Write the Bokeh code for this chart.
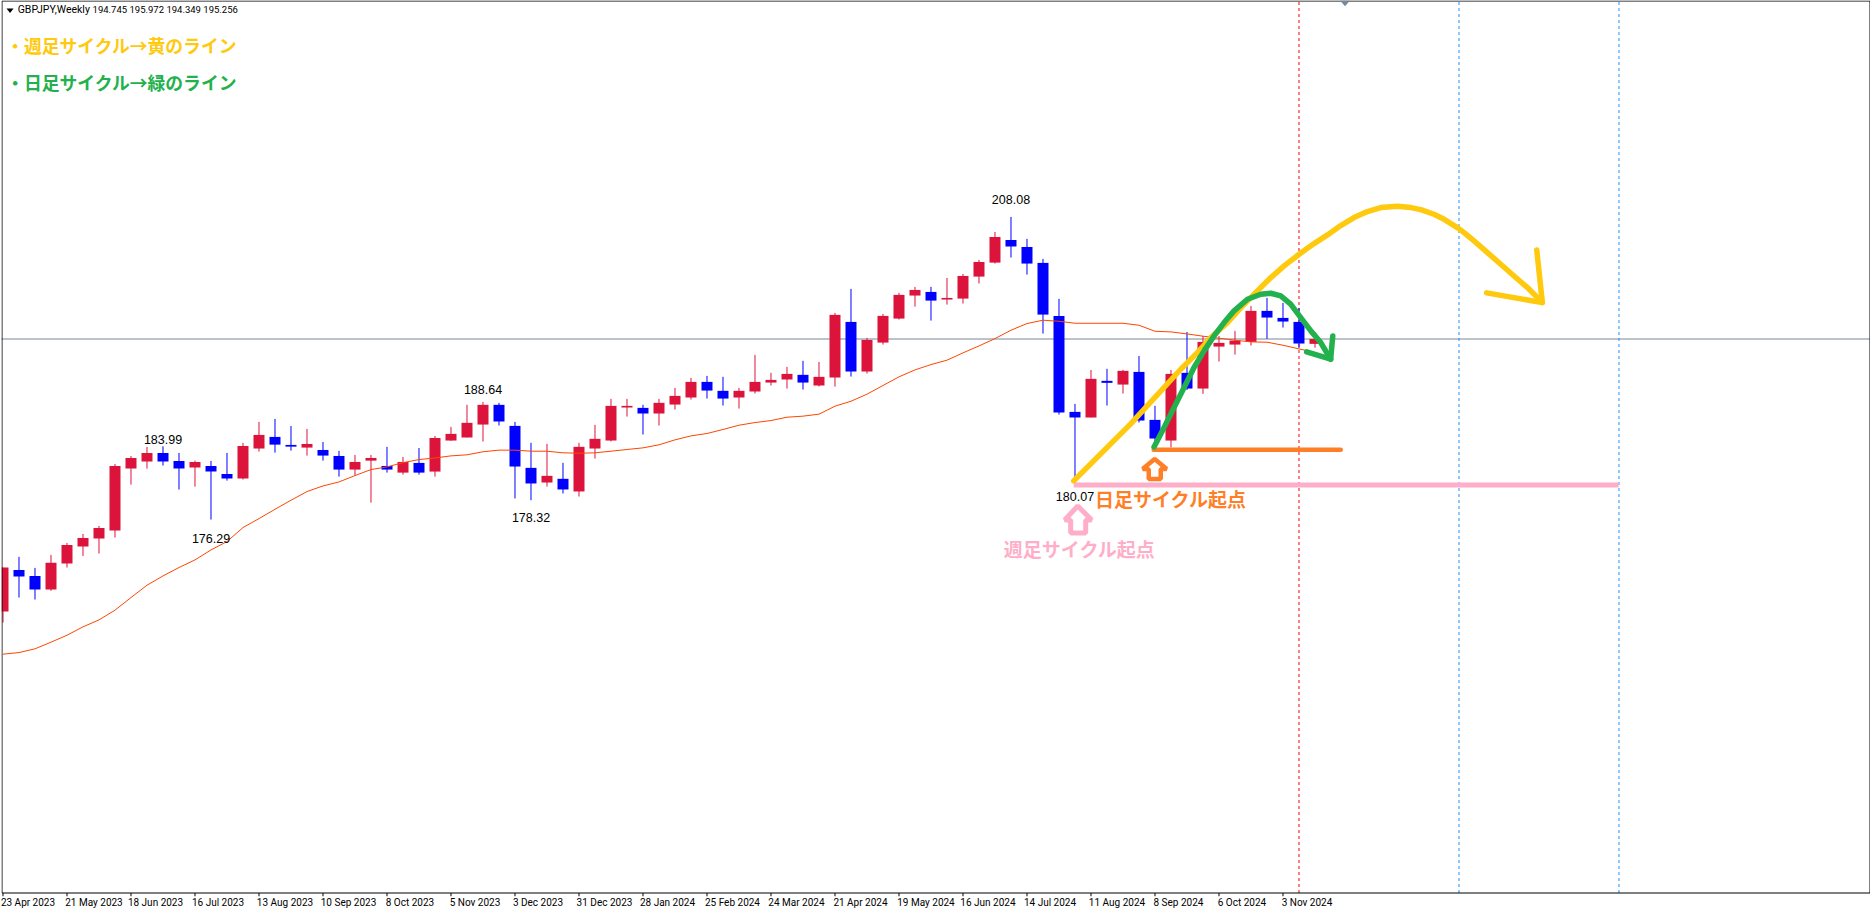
from bokeh.plotting import figure
from bokeh.models import ColumnDataSource, FixedTicker, Range1d, LinearAxis
from bokeh.core.properties import value
from bokeh.embed import file_html
from bokeh.resources import INLINE

# Weekly candles, index 0 = week of 23 Apr 2023
opens = [166.63,171.00,170.37,168.94,171.67,173.45,174.29,175.13,181.64,182.38,183.29,182.45,181.75,181.92,181.08,180.59,183.75,184.97,184.13,183.85,183.60,182.97,181.54,182.48,181.92,181.22,182.24,181.33,
         184.59,184.91,186.27,188.34,186.13,181.72,180.18,180.57,179.24,183.75,184.59,188.06,188.02,187.43,188.37,189.11,190.75,189.81,189.11,189.74,190.68,191.00,191.49,190.37,191.21,197.05,191.84,
         194.88,197.40,199.82,200.20,199.40,199.50,201.81,203.28,205.66,204.93,203.25,197.68,187.60,187.01,190.86,190.47,191.80,186.76,184.59,191.70,190.05,194.46,194.67,194.95,198.21,197.47,197.05,194.745]
highs = [171.25,172.37,171.21,172.58,173.84,174.78,175.62,182.13,182.97,183.92,183.99,183.29,182.48,182.45,183.29,184.34,186.55,186.86,186.12,185.81,184.44,183.50,183.08,183.08,183.92,182.87,183.81,185.07,
         186.03,188.34,188.64,188.55,186.55,184.35,184.24,182.25,184.35,186.24,188.97,188.97,188.34,188.97,190.12,191.17,191.38,191.28,190.12,193.59,191.70,192.33,192.96,192.85,198.00,200.52,195.37,
         197.89,200.10,200.73,200.73,201.67,202.09,203.56,206.50,208.08,205.77,203.67,199.47,188.44,192.01,192.12,192.01,193.48,188.23,192.01,196.00,195.58,195.58,196.11,198.73,199.57,199.05,198.52,195.972]
lows = [165.47,168.10,167.89,168.80,171.25,172.47,172.72,174.40,179.96,181.64,181.96,179.44,179.75,176.29,180.38,180.49,183.43,183.32,183.53,183.01,182.48,180.80,180.91,178.07,181.22,181.01,181.01,180.80,
        184.56,184.91,184.49,186.17,178.51,178.32,179.76,179.03,178.71,182.70,184.49,187.11,185.22,186.17,187.85,188.90,189.00,188.27,187.95,189.53,190.37,190.05,189.95,190.26,190.26,191.31,191.63,
        194.67,197.30,198.66,197.19,198.87,198.98,201.08,203.18,203.81,202.02,195.83,187.32,180.07,187.01,188.27,189.53,186.48,184.38,183.86,189.90,189.49,192.89,193.62,194.57,195.27,196.46,194.32,194.349]
closes = [171.25,170.30,168.94,171.74,173.63,174.36,175.41,181.92,182.76,183.29,182.38,181.64,182.34,181.33,180.59,184.02,185.18,184.16,183.95,184.23,183.01,181.54,182.34,182.76,181.54,182.34,181.22,184.86,
          185.29,186.45,188.34,186.59,181.86,180.08,180.88,179.45,183.93,184.77,188.23,188.23,187.43,188.55,189.28,190.75,189.84,189.00,189.81,190.75,190.96,191.59,190.68,191.28,197.79,191.84,195.16,
          197.68,199.89,200.41,199.29,199.57,201.88,203.35,205.98,204.96,203.18,197.82,187.53,187.01,191.07,190.65,191.91,186.69,184.80,191.59,190.05,194.95,194.85,195.09,198.21,197.51,197.09,194.78,195.256]
moving_avg = [162.15,162.32,162.71,163.41,164.14,165.02,165.75,166.77,168.10,169.39,170.37,171.25,172.05,173.10,173.98,175.45,176.39,177.37,178.32,179.23,179.82,180.24,180.91,181.54,181.82,182.27,182.59,182.76,
              182.98,183.09,183.41,183.58,183.58,183.47,183.47,183.30,183.26,183.30,183.47,183.65,183.82,184.14,184.66,185.08,185.33,185.75,186.20,186.48,186.69,187.04,187.15,187.36,188.20,188.72,189.46,
              190.37,191.28,192.01,192.57,193.03,193.80,194.53,195.30,196.18,196.88,197.23,197.12,196.91,196.91,196.91,196.91,196.70,196.07,196.00,195.79,195.55,195.34,195.13,194.95,194.92,194.60,194.22,193.83]

date_labels = ["23 Apr 2023","21 May 2023","18 Jun 2023","16 Jul 2023","13 Aug 2023","10 Sep 2023","8 Oct 2023","5 Nov 2023","3 Dec 2023","31 Dec 2023","28 Jan 2024",
               "25 Feb 2024","24 Mar 2024","21 Apr 2024","19 May 2024","16 Jun 2024","14 Jul 2024","11 Aug 2024","8 Sep 2024","6 Oct 2024","3 Nov 2024"]
label_widths = [50,54,49,46,52,51,46,48,46,51,49,51,51,51,54,50,46,52,47,46,48]
tick_positions = [i * 4 for i in range(len(date_labels))]

current_price = 195.256
cycle_lines = [81, 91, 101]
cycle_colors = ["#FF0000", "#1E90FF", "#1E90FF"]

swing_x = [63, 10, 13, 30, 33, 67]
swing_y = [209.87, 184.66, 174.26, 189.91, 176.46, 178.67]
swing_text = ["208.08", "183.99", "176.29", "188.64", "178.32", "180.07"]

yellow_x = [66.92,70.48,73.61,74.65,75.49,76.53,77.57,78.40,79.24,80.07,81.01,81.94,82.78,83.61,84.44,85.28,86.11,87.15,87.99,88.61,89.44,90.07,90.90,91.32,91.94,92.78,93.61,94.44,95.28,96.21]
yellow_y = [180.35,186.34,192.08,193.83,195.41,196.98,198.91,200.31,201.71,202.93,204.16,205.28,206.19,207.17,208.01,208.64,209.06,209.20,209.06,208.85,208.36,207.83,206.96,206.43,205.56,204.33,203.11,201.88,200.66,199.08]
yellow_head_x = [92.73,96.21,95.86]
yellow_head_y = [200.10,199.08,204.61]
green_x = [71.94,72.57,73.19,73.82,74.44,75.07,75.69,76.32,76.94,77.78,78.61,79.24,79.86,80.48,81.11,81.74,82.36,82.98]
green_y = [183.92,185.96,188.06,190.16,192.26,194.01,195.58,196.98,198.21,199.43,199.96,200.06,199.78,198.91,197.51,196.11,194.88,193.13]
green_head_x = [81.48,82.98,83.11]
green_head_y = [193.90,193.13,195.58]
pink_level_x = [66.92,100.98]
pink_level_y = [179.93,179.93]
orange_level_x = [71.92,83.61]
orange_level_y = [183.61,183.61]
pink_arrow_x = [67.17,68.04,67.67,67.67,66.73,66.73,66.36]
pink_arrow_y = [177.72,176.25,176.25,174.89,174.89,176.25,176.25]
orange_arrow_x = [71.98,72.73,72.36,72.36,71.61,71.61,71.23]
orange_arrow_y = [182.66,181.61,181.61,180.56,180.56,181.61,181.61]

YELLOW, GREEN, ORANGE, PINK = "#FFC90E", "#22B14C", "#FF7F27", "#FFAEC9"
UP, DOWN = "#DC143C", "#0000FF"
BAR_PX = 16
PX_PER_PRICE = 9.52
FRAME_H = 896
X0, X1 = -0.09375, 116.72
Y1 = current_price + 338.5 / PX_PER_PRICE
Y0 = Y1 - FRAME_H / PX_PER_PRICE
BORDER_Y = Y1 - 892.5 / PX_PER_PRICE

idx = list(range(len(opens)))
src = ColumnDataSource(dict(
    x=idx,
    top=[max(o, c) for o, c in zip(opens, closes)],
    bottom=[min(o, c) for o, c in zip(opens, closes)],
    high=highs,
    low=lows,
    color=[UP if c >= o else DOWN for o, c in zip(opens, closes)],
))

p = figure(width=1870, height=911, output_backend="svg", toolbar_location=None,
           x_range=Range1d(X0, X1), y_range=Range1d(Y0, Y1),
           y_axis_location=None, min_border_left=1, min_border_right=0,
           min_border_top=0, min_border_bottom=15, background_fill_color="white")
p.styles = {"position": "absolute", "left": "0px", "top": "0px"}
p.grid.visible = False
p.outline_line_color = None

label_pos = [t + w / 2 / BAR_PX for t, w in zip(tick_positions, label_widths)]
ax = p.xaxis[0]
ax.ticker = FixedTicker(ticks=label_pos)
ax.major_label_overrides = {t: s for t, s in zip(label_pos, date_labels)}
ax.major_label_text_font = "Roboto"
ax.major_label_text_font_size = "10px"
ax.major_label_text_color = "black"
ax.major_label_standoff = 0
ax.major_tick_in = 0
ax.major_tick_out = 0
ax.major_tick_line_color = None
ax.minor_tick_line_color = None
ax.axis_line_color = None

p.line([-1, 117], [current_price, current_price], line_color="#778899", line_width=1)
for xv, col in zip(cycle_lines, cycle_colors):
    p.line([xv, xv], [BORDER_Y, Y1], line_color=col, line_width=1, line_dash="3 3")

p.segment("x", "low", "x", "high", color="color", line_width=1, source=src)
p.vbar(x="x", top="top", bottom="bottom", width=0.6875, fill_color="color", line_color=None, source=src)
p.line(idx, moving_avg, line_color="#FF4500", line_width=1)

# frame border and time-axis tick marks
bx0, bx1 = X0 + 0.5 / BAR_PX, X1 - 0.5 / BAR_PX
by1 = Y1 - 0.5 / PX_PER_PRICE
p.line([bx0, bx1, bx1, bx0, bx0], [by1, by1, BORDER_Y, BORDER_Y, by1], line_color="black", line_width=1)
p.segment(tick_positions, [BORDER_Y] * len(tick_positions), tick_positions, [Y0] * len(tick_positions),
          line_color="black", line_width=1)

p.text(swing_x, swing_y, text=swing_text, text_font=value("Liberation Sans"), text_font_size="12.5px",
       text_align="center", text_baseline="middle", text_color="black")

p.patch([0.22, 0.66, 0.44], [229.98, 229.98, 229.51], fill_color="black", line_color=None)
p.text([0.92], [229.82], text=["GBPJPY,Weekly"], text_font=value("Roboto"), text_font_size="10.5px",
       text_baseline="middle", text_color="black")
p.text([5.6], [229.82], text=["194.745 195.972 194.349 195.256"], text_font=value("Roboto"), text_font_size="9.5px",
       text_baseline="middle", text_color="black")

# Hand-drawn annotations
p.line(pink_level_x, pink_level_y, line_color=PINK, line_width=5)
p.line(orange_level_x, orange_level_y, line_color=ORANGE, line_width=4.5, line_cap="round")
p.line(yellow_x, yellow_y, line_color=YELLOW, line_width=5.5, line_cap="round", line_join="round")
p.line(yellow_head_x, yellow_head_y, line_color=YELLOW, line_width=5.5, line_cap="round", line_join="round")
p.line(green_x, green_y, line_color=GREEN, line_width=5.5, line_cap="round", line_join="round")
p.line(green_head_x, green_head_y, line_color=GREEN, line_width=5.5, line_cap="round", line_join="round")
p.patch(pink_arrow_x, pink_arrow_y, fill_color="white", line_color=PINK, line_width=5)
p.patch(orange_arrow_x, orange_arrow_y, fill_color="white", line_color=ORANGE, line_width=4.5)

jp = value("Noto Sans CJK JP")
p.text([0.2], [226.17], text=["・週足サイクル→黄のライン"], text_font=jp, text_font_size="17.8px", text_font_style="bold",
       text_baseline="middle", text_color=YELLOW)
p.text([0.2], [222.3], text=["・日足サイクル→緑のライン"], text_font=jp, text_font_size="17.8px", text_font_style="bold",
       text_baseline="middle", text_color=GREEN)
p.text([68.25], [178.5], text=["日足サイクル起点"], text_font=jp, text_font_size="19px", text_font_style="bold",
       text_baseline="middle", text_color=ORANGE)
p.text([62.55], [173.3], text=["週足サイクル起点"], text_font=jp, text_font_size="19px", text_font_style="bold",
       text_baseline="middle", text_color=PINK)
p.patch([83.56, 84.19, 83.88], [230.8, 230.8, 230.2], fill_color="#778899", line_color=None)

open("out.html", "w").write(file_html(p, INLINE))
